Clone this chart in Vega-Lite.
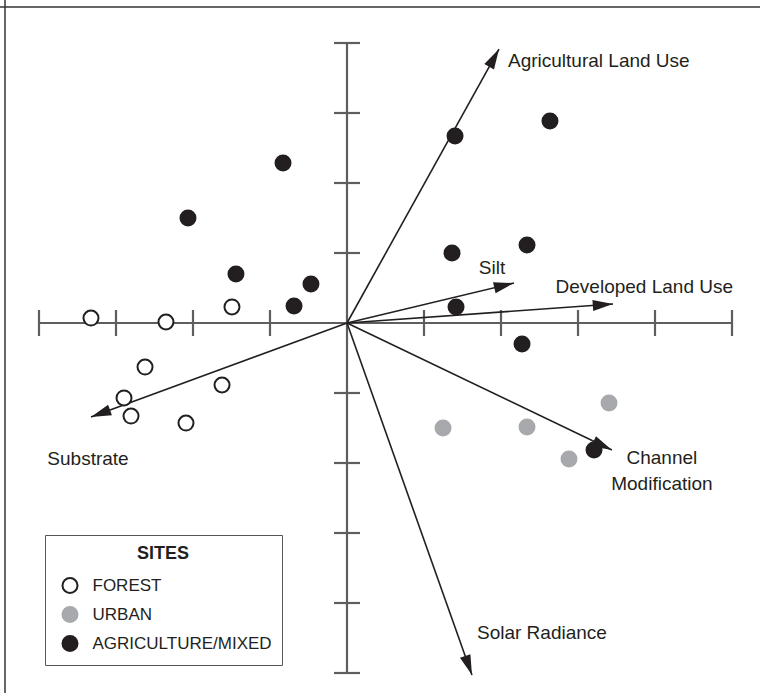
{
  "$schema": "https://vega.github.io/schema/vega-lite/v6.json",
  "width": 760,
  "height": 693,
  "autosize": "none",
  "padding": 0,
  "background": "white",
  "config": {
    "view": {"stroke": null},
    "legend": {
      "orient": "none",
      "legendX": 45,
      "legendY": 535,
      "padding": 10,
      "strokeColor": "#555555",
      "fillColor": "white",
      "titleFont": "Liberation Sans",
      "titleFontSize": 18,
      "titleFontWeight": "bold",
      "titleColor": "#231f20",
      "titleAnchor": "middle",
      "titlePadding": 14,
      "labelFont": "Liberation Sans",
      "labelFontSize": 17,
      "labelColor": "#231f20",
      "labelOffset": 14,
      "labelLimit": 300,
      "symbolOffset": 6.5,
      "symbolSize": 225,
      "symbolStrokeWidth": 2,
      "symbolType": "circle",
      "rowPadding": 6
    }
  },
  "datasets": {
    "sites": [
      {"x": -3.325, "y": 0.071, "site": "FOREST"},
      {"x": -2.351, "y": 0.014, "site": "FOREST"},
      {"x": -1.494, "y": 0.229, "site": "FOREST"},
      {"x": -2.623, "y": -0.629, "site": "FOREST"},
      {"x": -2.896, "y": -1.071, "site": "FOREST"},
      {"x": -2.805, "y": -1.329, "site": "FOREST"},
      {"x": -2.091, "y": -1.429, "site": "FOREST"},
      {"x": -1.623, "y": -0.886, "site": "FOREST"},
      {"x": 1.247, "y": -1.5, "site": "URBAN"},
      {"x": 2.338, "y": -1.486, "site": "URBAN"},
      {"x": 3.403, "y": -1.143, "site": "URBAN"},
      {"x": 2.883, "y": -1.943, "site": "URBAN"},
      {"x": -0.831, "y": 2.286, "site": "AGRICULTURE/MIXED"},
      {"x": -2.065, "y": 1.5, "site": "AGRICULTURE/MIXED"},
      {"x": -1.442, "y": 0.7, "site": "AGRICULTURE/MIXED"},
      {"x": -0.468, "y": 0.557, "site": "AGRICULTURE/MIXED"},
      {"x": -0.688, "y": 0.243, "site": "AGRICULTURE/MIXED"},
      {"x": 1.403, "y": 2.671, "site": "AGRICULTURE/MIXED"},
      {"x": 2.636, "y": 2.886, "site": "AGRICULTURE/MIXED"},
      {"x": 1.364, "y": 1.0, "site": "AGRICULTURE/MIXED"},
      {"x": 2.338, "y": 1.114, "site": "AGRICULTURE/MIXED"},
      {"x": 1.416, "y": 0.229, "site": "AGRICULTURE/MIXED"},
      {"x": 2.273, "y": -0.3, "site": "AGRICULTURE/MIXED"},
      {"x": 3.208, "y": -1.814, "site": "AGRICULTURE/MIXED"}
    ],
    "vectors": [
      {"label": "Agricultural Land Use", "x0": 0, "y0": 0, "x": 1.974, "y": 3.914},
      {"label": "Silt", "x0": 0, "y0": 0, "x": 2.169, "y": 0.571},
      {"label": "Developed Land Use", "x0": 0, "y0": 0, "x": 3.455, "y": 0.271},
      {"label": "Channel\nModification", "x0": 0, "y0": 0, "x": 3.44, "y": -1.814},
      {"label": "Solar Radiance", "x0": 0, "y0": 0, "x": 1.623, "y": -5.03},
      {"label": "Substrate", "x0": 0, "y0": 0, "x": -3.325, "y": -1.343}
    ],
    "axes": [
      {"x": -4, "x2": 5, "y": 0, "y2": 0},
      {"x": 0, "x2": 0, "y": -5, "y2": 4}
    ],
    "xticks": [{"x": -4, "y": 0}, {"x": -3, "y": 0}, {"x": -2, "y": 0}, {"x": -1, "y": 0}, {"x": 1, "y": 0}, {"x": 2, "y": 0}, {"x": 3, "y": 0}, {"x": 4, "y": 0}, {"x": 5, "y": 0}],
    "yticks": [{"x": 0, "y": -5}, {"x": 0, "y": -4}, {"x": 0, "y": -3}, {"x": 0, "y": -2}, {"x": 0, "y": -1}, {"x": 0, "y": 1}, {"x": 0, "y": 2}, {"x": 0, "y": 3}, {"x": 0, "y": 4}],
    "frameLeft": [{"x": -4.4416}],
    "frameTop": [{"y": 4.5143}]
  },
  "layer": [
    {
      "data": {"name": "frameLeft"},
      "mark": {"type": "rule", "color": "#333333", "strokeWidth": 1.5},
      "encoding": {
        "x": {"field": "x", "type": "quantitative", "scale": {"domain": [-4.5065, 5.3636], "nice": false, "zero": false}, "axis": null}
      }
    },
    {
      "data": {"name": "frameTop"},
      "mark": {"type": "rule", "color": "#333333", "strokeWidth": 1.5},
      "encoding": {
        "y": {"field": "y", "type": "quantitative", "scale": {"domain": [-5.2857, 4.6143], "nice": false, "zero": false}, "axis": null}
      }
    },
    {
      "data": {"name": "axes"},
      "mark": {"type": "rule", "color": "#5e5e5e", "strokeWidth": 2.2},
      "encoding": {
        "x": {"field": "x", "type": "quantitative", "scale": {"domain": [-4.5065, 5.3636], "nice": false, "zero": false}, "axis": null},
        "x2": {"field": "x2"},
        "y": {"field": "y", "type": "quantitative", "scale": {"domain": [-5.2857, 4.6143], "nice": false, "zero": false}, "axis": null},
        "y2": {"field": "y2"}
      }
    },
    {
      "data": {"name": "xticks"},
      "mark": {"type": "tick", "orient": "vertical", "size": 26, "thickness": 2.2, "color": "#5e5e5e", "opacity": 1},
      "encoding": {
        "x": {"field": "x", "type": "quantitative", "scale": {"domain": [-4.5065, 5.3636], "nice": false, "zero": false}, "axis": null},
        "y": {"field": "y", "type": "quantitative", "scale": {"domain": [-5.2857, 4.6143], "nice": false, "zero": false}, "axis": null}
      }
    },
    {
      "data": {"name": "yticks"},
      "mark": {"type": "tick", "orient": "horizontal", "size": 26, "thickness": 2.2, "color": "#5e5e5e", "opacity": 1},
      "encoding": {
        "x": {"field": "x", "type": "quantitative", "scale": {"domain": [-4.5065, 5.3636], "nice": false, "zero": false}, "axis": null},
        "y": {"field": "y", "type": "quantitative", "scale": {"domain": [-5.2857, 4.6143], "nice": false, "zero": false}, "axis": null}
      }
    },
    {
      "data": {"name": "vectors"},
      "mark": {"type": "rule", "color": "#231f20", "strokeWidth": 1.6},
      "encoding": {
        "x": {"field": "x0", "type": "quantitative", "scale": {"domain": [-4.5065, 5.3636], "nice": false, "zero": false}, "axis": null},
        "y": {"field": "y0", "type": "quantitative", "scale": {"domain": [-5.2857, 4.6143], "nice": false, "zero": false}, "axis": null},
        "x2": {"field": "x"},
        "y2": {"field": "y"}
      }
    },
    {
      "data": {"name": "vectors"},
      "mark": {
        "type": "point",
        "shape": "M0,0L0.6,2.2L-0.6,2.2Z",
        "size": 340,
        "filled": true,
        "color": "#231f20",
        "opacity": 1,
        "strokeWidth": 0,
        "angle": {"expr": "atan2(scale('x', datum.x) - scale('x', 0), scale('y', 0) - scale('y', datum.y)) * 180 / PI"}
      },
      "encoding": {
        "x": {"field": "x", "type": "quantitative", "scale": {"domain": [-4.5065, 5.3636], "nice": false, "zero": false}, "axis": null},
        "y": {"field": "y", "type": "quantitative", "scale": {"domain": [-5.2857, 4.6143], "nice": false, "zero": false}, "axis": null}
      }
    },
    {
      "data": {"name": "vectors"},
      "transform": [{"filter": "datum.label === 'Agricultural Land Use'"}],
      "mark": {"type": "text", "align": "left", "baseline": "middle", "dx": 9, "dy": 12, "font": "Liberation Sans", "fontSize": 19, "color": "#231f20"},
      "encoding": {
        "x": {"field": "x", "type": "quantitative", "scale": {"domain": [-4.5065, 5.3636], "nice": false, "zero": false}, "axis": null},
        "y": {"field": "y", "type": "quantitative", "scale": {"domain": [-5.2857, 4.6143], "nice": false, "zero": false}, "axis": null},
        "text": {"field": "label"}
      }
    },
    {
      "data": {"name": "vectors"},
      "transform": [{"filter": "datum.label === 'Silt'"}],
      "mark": {"type": "text", "align": "center", "baseline": "middle", "dx": -22, "dy": -15, "font": "Liberation Sans", "fontSize": 19, "color": "#231f20"},
      "encoding": {
        "x": {"field": "x", "type": "quantitative", "scale": {"domain": [-4.5065, 5.3636], "nice": false, "zero": false}, "axis": null},
        "y": {"field": "y", "type": "quantitative", "scale": {"domain": [-5.2857, 4.6143], "nice": false, "zero": false}, "axis": null},
        "text": {"field": "label"}
      }
    },
    {
      "data": {"name": "vectors"},
      "transform": [{"filter": "datum.label === 'Developed Land Use'"}],
      "mark": {"type": "text", "align": "right", "baseline": "middle", "dx": 120, "dy": -17, "font": "Liberation Sans", "fontSize": 19, "color": "#231f20"},
      "encoding": {
        "x": {"field": "x", "type": "quantitative", "scale": {"domain": [-4.5065, 5.3636], "nice": false, "zero": false}, "axis": null},
        "y": {"field": "y", "type": "quantitative", "scale": {"domain": [-5.2857, 4.6143], "nice": false, "zero": false}, "axis": null},
        "text": {"field": "label"}
      }
    },
    {
      "data": {"name": "vectors"},
      "transform": [{"filter": "indexof(datum.label, 'Channel') === 0"}],
      "mark": {"type": "text", "align": "center", "baseline": "middle", "dx": 50, "dy": 8, "lineBreak": "\n", "lineHeight": 26, "font": "Liberation Sans", "fontSize": 19, "color": "#231f20"},
      "encoding": {
        "x": {"field": "x", "type": "quantitative", "scale": {"domain": [-4.5065, 5.3636], "nice": false, "zero": false}, "axis": null},
        "y": {"field": "y", "type": "quantitative", "scale": {"domain": [-5.2857, 4.6143], "nice": false, "zero": false}, "axis": null},
        "text": {"field": "label"}
      }
    },
    {
      "data": {"name": "vectors"},
      "transform": [{"filter": "datum.label === 'Solar Radiance'"}],
      "mark": {"type": "text", "align": "left", "baseline": "middle", "dx": 5, "dy": -42, "font": "Liberation Sans", "fontSize": 19, "color": "#231f20"},
      "encoding": {
        "x": {"field": "x", "type": "quantitative", "scale": {"domain": [-4.5065, 5.3636], "nice": false, "zero": false}, "axis": null},
        "y": {"field": "y", "type": "quantitative", "scale": {"domain": [-5.2857, 4.6143], "nice": false, "zero": false}, "axis": null},
        "text": {"field": "label"}
      }
    },
    {
      "data": {"name": "vectors"},
      "transform": [{"filter": "datum.label === 'Substrate'"}],
      "mark": {"type": "text", "align": "center", "baseline": "middle", "dx": -3, "dy": 42, "font": "Liberation Sans", "fontSize": 19, "color": "#231f20"},
      "encoding": {
        "x": {"field": "x", "type": "quantitative", "scale": {"domain": [-4.5065, 5.3636], "nice": false, "zero": false}, "axis": null},
        "y": {"field": "y", "type": "quantitative", "scale": {"domain": [-5.2857, 4.6143], "nice": false, "zero": false}, "axis": null},
        "text": {"field": "label"}
      }
    },
    {
      "data": {"name": "sites"},
      "mark": {"type": "point", "shape": "circle", "size": 225, "strokeWidth": 2, "opacity": 1, "fillOpacity": 1, "strokeOpacity": 1},
      "encoding": {
        "x": {"field": "x", "type": "quantitative", "scale": {"domain": [-4.5065, 5.3636], "nice": false, "zero": false}, "axis": null},
        "y": {"field": "y", "type": "quantitative", "scale": {"domain": [-5.2857, 4.6143], "nice": false, "zero": false}, "axis": null},
        "fill": {"field": "site", "type": "nominal", "title": "SITES", "scale": {"domain": ["FOREST", "URBAN", "AGRICULTURE/MIXED"], "range": ["#ffffff", "#a7a9ac", "#231f20"]}},
        "stroke": {"field": "site", "type": "nominal", "title": "SITES", "scale": {"domain": ["FOREST", "URBAN", "AGRICULTURE/MIXED"], "range": ["#231f20", "#a7a9ac", "#231f20"]}}
      }
    }
  ]
}
